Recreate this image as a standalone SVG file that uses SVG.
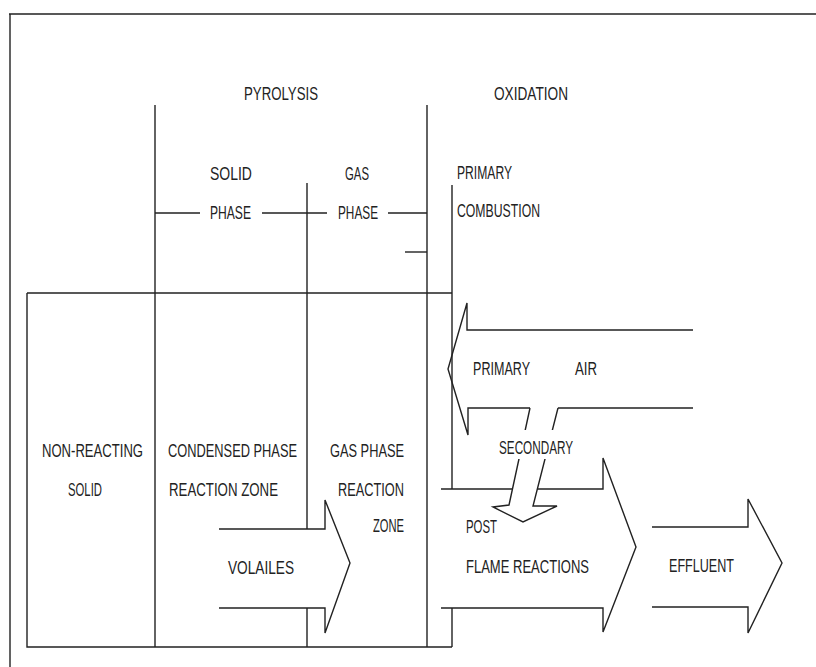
<svg xmlns="http://www.w3.org/2000/svg" width="816" height="667" viewBox="0 0 816 667">
<style>
.ln{fill:none;stroke:#222;stroke-width:1.4;stroke-linejoin:miter}
.t{font-family:"Liberation Sans",Arial,sans-serif;font-size:18px;fill:#222}
</style>
<rect width="816" height="667" fill="#fff"/>
<g id="frame" class="ln">
<path d="M9,14 H816 M10,14 V667"/>
<path d="M27,293 H452 M27,293 V647 H452"/>
<path d="M155,105 V647"/>
<path d="M307,183 V529 M307,608 V647"/>
<path d="M427,105 V647"/>
<path d="M452,185 V489"/>
<path d="M452,608 V647"/>
<path d="M155,213 H200 M262,213 H327 M388,213 H427"/>
<path d="M405,252 H427"/>
</g>
<g id="pyrolysis"><text class="t" transform="translate(244,100) scale(0.72,1)" textLength="102.8" lengthAdjust="spacingAndGlyphs">PYROLYSIS</text></g>
<g id="oxidation"><text class="t" transform="translate(494,100) scale(0.72,1)" textLength="102.8" lengthAdjust="spacingAndGlyphs">OXIDATION</text></g>
<g id="solid-phase">
<text class="t" transform="translate(210,180) scale(0.72,1)" textLength="58.3" lengthAdjust="spacingAndGlyphs">SOLID</text>
<text class="t" transform="translate(210,219) scale(0.72,1)" textLength="56.9" lengthAdjust="spacingAndGlyphs">PHASE</text>
</g>
<g id="gas-phase">
<text class="t" transform="translate(345,180) scale(0.72,1)" textLength="33.3" lengthAdjust="spacingAndGlyphs">GAS</text>
<text class="t" transform="translate(338,219) scale(0.72,1)" textLength="55.6" lengthAdjust="spacingAndGlyphs">PHASE</text>
</g>
<g id="primary-combustion">
<text class="t" transform="translate(457,179) scale(0.72,1)" textLength="76.4" lengthAdjust="spacingAndGlyphs">PRIMARY</text>
<text class="t" transform="translate(457,217) scale(0.72,1)" textLength="115.3" lengthAdjust="spacingAndGlyphs">COMBUSTION</text>
</g>
<g id="non-reacting-solid">
<text class="t" transform="translate(42,457) scale(0.72,1)" textLength="140.3" lengthAdjust="spacingAndGlyphs">NON-REACTING</text>
<text class="t" transform="translate(68,496) scale(0.72,1)" textLength="47.2" lengthAdjust="spacingAndGlyphs">SOLID</text>
</g>
<g id="condensed-phase-zone">
<text class="t" transform="translate(168,457) scale(0.72,1)" textLength="179.2" lengthAdjust="spacingAndGlyphs">CONDENSED PHASE</text>
<text class="t" transform="translate(169,496) scale(0.72,1)" textLength="151.4" lengthAdjust="spacingAndGlyphs">REACTION ZONE</text>
</g>
<g id="gas-phase-zone">
<text class="t" transform="translate(330,457) scale(0.72,1)" textLength="102.8" lengthAdjust="spacingAndGlyphs">GAS PHASE</text>
<text class="t" transform="translate(338,496) scale(0.72,1)" textLength="91.7" lengthAdjust="spacingAndGlyphs">REACTION</text>
<text class="t" transform="translate(373,532) scale(0.72,1)" textLength="43.1" lengthAdjust="spacingAndGlyphs">ZONE</text>
</g>
<g id="connectors">
<g id="primary-air">
<path class="ln" d="M693,330 H467 V303 L448,369 L468,435 V408 H530 M558,408 H693"/>
<text class="t" transform="translate(473,375) scale(0.72,1)" textLength="79.2" lengthAdjust="spacingAndGlyphs">PRIMARY</text>
<text class="t" transform="translate(575,375) scale(0.72,1)" textLength="30.6" lengthAdjust="spacingAndGlyphs">AIR</text>
</g>
<g id="post-flame">
<path class="ln" d="M441,489 H512 M538,489 H603 V458 L636,547 L603,632 V608 H441"/>
<text class="t" transform="translate(466,533) scale(0.72,1)" textLength="43.1" lengthAdjust="spacingAndGlyphs">POST</text>
<text class="t" transform="translate(466,573) scale(0.72,1)" textLength="170.8" lengthAdjust="spacingAndGlyphs">FLAME REACTIONS</text>
</g>
<g id="secondary-air">
<path class="ln" d="M530,408 L509,505 L493,507 L523,522 L557,506 L533,506 L558,408"/>
<rect x="496" y="430" width="80" height="29" fill="#fff"/>
<text class="t" transform="translate(499,454) scale(0.72,1)" textLength="102.8" lengthAdjust="spacingAndGlyphs">SECONDARY</text>
</g>
<g id="volatiles">
<path class="ln" d="M219,529 H325 V500 L350,563 L325,633 V608 H219"/>
<text class="t" transform="translate(228,574) scale(0.72,1)" textLength="91.7" lengthAdjust="spacingAndGlyphs">VOLAILES</text>
</g>
<g id="effluent">
<path class="ln" d="M652,527 H748 V499 L782,563 L748,633 V607 H652"/>
<text class="t" transform="translate(669,572) scale(0.72,1)" textLength="90.3" lengthAdjust="spacingAndGlyphs">EFFLUENT</text>
</g>
</g>
</svg>
